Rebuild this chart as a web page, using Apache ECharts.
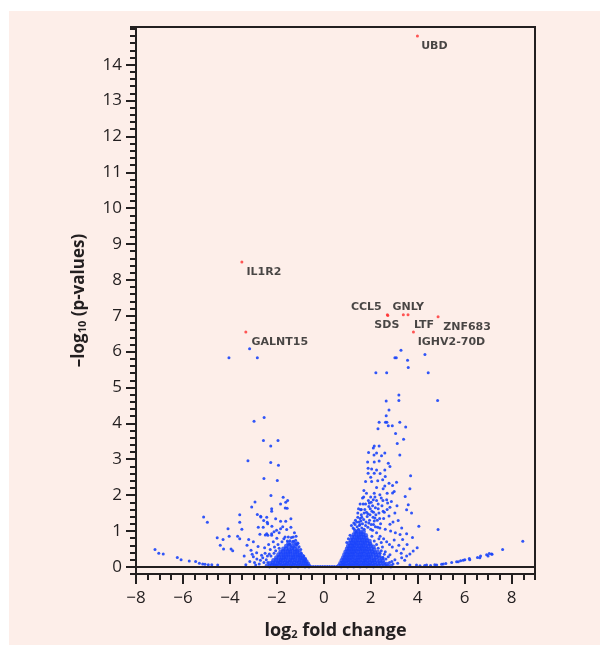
<!DOCTYPE html>
<html>
<head>
<meta charset="utf-8">
<script src="https://cdn.jsdelivr.net/npm/echarts/dist/echarts.min.js"></script>
<style>
  html, body { margin: 0; padding: 0; background: #ffffff; }
  #panel { position: absolute; left: 9px; top: 11px; width: 591px; height: 634px; background: #fdeee9; }
  #main { position: absolute; left: 0; top: 0; width: 608px; height: 645px; }
</style>
</head>
<body>
<div id="panel"></div>
<div id="main"></div>
<script>
// tick labels
var xTicks = [-8, -6, -4, -2, 0, 2, 4, 6, 8];
var yTicks = [0, 1, 2, 3, 4, 5, 6, 7, 8, 9, 10, 11, 12, 13, 14];

// labelled genes (red)
var geneNames = ['UBD', 'IL1R2', 'GALNT15', 'CCL5', 'SDS', 'GNLY', 'LTF', 'ZNF683', 'IGHV2-70D'];
var geneLogFC = [3.99, -3.49, -3.32, 2.71, 2.73, 3.39, 3.59, 4.87, 3.82];
var geneLogP = [14.8, 8.5, 6.55, 7.03, 7.01, 7.03, 7.03, 6.97, 6.55];

// all other genes (blue), [log2 fold change, -log10 p]
var leftTail = [
  [-7.19,0.48],[-7.03,0.38],[-6.84,0.36],[-6.24,0.26],[-6.08,0.2],[-5.73,0.16],[-5.46,0.15],[-5.3,0.1],
  [-5.16,0.08],[-5.06,0.07],[-4.92,0.06],[-4.77,0.06],[-4.52,0.05],[-5.12,1.39],[-4.96,1.24],[-4.54,0.81],
  [-4.29,0.76],[-4.41,0.6],[-4.27,0.5],[-4.08,1.06],[-4.03,0.85],[-3.95,0.5],[-3.88,0.45],[-3.67,0.85],
  [-3.58,0.78],[-3.58,1.45],[-3.58,1.24],[-3.49,1.05],[-3.39,0.3],[-3.32,0.06],[-3.27,0.6],[-3.2,0.76],
  [-3.1,0.46],[-3.0,0.7],[-3.0,0.28],[-2.86,0.39],[-2.8,0.57],[-2.79,1.1],[-2.72,0.91],[-2.65,0.32],
  [-2.52,0.53],[-2.49,0.89],[-2.38,0.88],[-2.22,0.92],[-2.95,0.12],[-2.85,0.22],[-2.75,0.08],[-2.7,0.18],
  [-2.6,0.25],[-2.55,0.12],[-2.5,0.38],[-2.45,0.2],[-2.9,0.05],[-3.15,0.15],[-3.05,0.35]
];
var leftSpray = [
  [-4.04,5.83],[-3.16,6.08],[-2.83,5.83],[-2.97,4.06],[-2.54,4.16],[-2.57,3.52],[-2.26,3.37],[-1.95,3.52],
  [-3.23,2.96],[-2.26,2.91],[-1.93,2.83],[-2.55,2.46],[-1.98,2.41],[-2.25,1.99],[-2.93,1.81],[-3.07,1.67],
  [-2.22,1.62],[-2.22,1.55],[-1.73,1.94],[-1.54,1.85],[-1.62,1.8],[-1.84,1.75],[-1.64,1.64],[-1.56,1.63],
  [-2.83,1.46],[-2.68,1.39],[-2.56,1.29],[-2.39,1.2],[-2.69,1.41],[-2.43,1.38],[-2.05,1.34],[-1.4,1.34],
  [-1.84,1.27],[-1.62,1.27],[-2.41,1.24],[-2.21,1.13],[-2.58,1.1],[-1.4,1.1],[-2.01,1.02],[-1.84,1.06],
  [-1.58,1.04],[-2.43,0.92],[-2.22,0.88],[-1.65,0.83],[-1.51,0.83],[-1.3,0.83],[-1.44,0.73],[-1.3,0.71],
  [-1.16,0.62],[-2.35,0.62],[-2.28,0.48],[-2.15,0.7],[-2.1,0.55],[-2.0,0.8],[-1.95,0.62],[-1.9,0.52],
  [-1.78,0.7],[-1.7,0.78],[-1.55,0.72],[-1.45,0.62],[-1.2,0.74],[-1.1,0.66],[-1.05,0.56],[-0.98,0.48],
  [-2.05,0.45],[-2.32,0.36],[-2.4,0.3],[-1.25,0.95],[-1.75,1.12],[-1.9,0.95],[-2.12,0.98],
  [-2.38,0.12],[-2.25,0.3],[-2.12,0.38],[-0.95,0.38],[-0.85,0.3],[-0.78,0.22],[-1.38,0.82],[-1.18,0.85]
];
var leftCore = [
  [-2.42,0.03],[-2.31,0.02],[-2.2,0.04],[-2.1,0.03],[-2.01,0.02],[-1.9,0.04],[-1.8,0.03],[-1.7,0.02],
  [-1.6,0.04],[-1.5,0.03],[-1.4,0.02],[-1.3,0.04],[-1.2,0.03],[-1.1,0.02],[-1.0,0.04],[-0.9,0.03],
  [-0.8,0.02],[-0.71,0.03],[-0.63,0.02],
  [-2.28,0.1],[-2.17,0.11],[-2.06,0.09],[-1.96,0.1],[-1.86,0.12],[-1.76,0.09],[-1.66,0.11],[-1.56,0.1],
  [-1.46,0.12],[-1.36,0.09],[-1.26,0.11],[-1.16,0.1],[-1.06,0.12],[-0.96,0.09],[-0.86,0.11],[-0.76,0.1],
  [-0.67,0.08],
  [-2.14,0.18],[-2.03,0.19],[-1.93,0.17],[-1.83,0.19],[-1.73,0.18],[-1.63,0.2],[-1.53,0.17],[-1.43,0.19],
  [-1.33,0.18],[-1.23,0.2],[-1.13,0.17],[-1.03,0.19],[-0.93,0.18],[-0.83,0.16],[-0.74,0.15],
  [-2.02,0.26],[-1.91,0.27],[-1.8,0.25],[-1.7,0.27],[-1.6,0.26],[-1.5,0.28],[-1.4,0.25],[-1.3,0.27],
  [-1.2,0.26],[-1.1,0.28],[-1.0,0.25],[-0.9,0.24],[-0.81,0.22],
  [-1.93,0.34],[-1.82,0.35],[-1.72,0.33],[-1.62,0.35],[-1.52,0.34],[-1.42,0.36],[-1.32,0.33],[-1.22,0.35],
  [-1.12,0.34],[-1.02,0.32],[-0.92,0.3],
  [-1.84,0.42],[-1.73,0.43],[-1.63,0.41],[-1.53,0.43],[-1.43,0.42],[-1.33,0.44],[-1.23,0.41],[-1.13,0.43],
  [-1.03,0.4],
  [-1.72,0.5],[-1.6,0.51],[-1.48,0.49],[-1.36,0.52],[-1.24,0.5],[-1.12,0.48],
  [-1.6,0.58],[-1.47,0.6],[-1.33,0.57],[-1.2,0.59],
  [-1.5,0.66],[-1.3,0.68],[-1.15,0.65]
];
var midZero = [
  [-0.55,0.01],[-0.45,0.01],[-0.35,0.01],[-0.25,0.01],[-0.15,0.01],[-0.05,0.01],
  [0.05,0.01],[0.15,0.01],[0.25,0.01],[0.35,0.01],[0.45,0.01],[0.55,0.01]
];
var rightCore = [
  [0.65,0.03],[0.74,0.02],[0.83,0.04],[0.91,0.03],[1.02,0.02],[1.1,0.04],[1.19,0.03],[1.28,0.02],
  [1.37,0.04],[1.46,0.03],[1.55,0.02],[1.66,0.04],[1.74,0.03],[1.83,0.02],[1.93,0.04],[2.02,0.03],
  [2.12,0.02],[2.21,0.04],[2.33,0.03],[2.45,0.02],[2.58,0.04],[2.71,0.03],[2.86,0.02],
  [0.71,0.1],[0.8,0.11],[0.88,0.09],[0.97,0.1],[1.06,0.12],[1.15,0.09],[1.24,0.11],[1.33,0.1],
  [1.42,0.12],[1.51,0.09],[1.6,0.11],[1.7,0.1],[1.79,0.12],[1.88,0.09],[1.97,0.11],[2.08,0.1],
  [2.17,0.12],[2.29,0.09],[2.41,0.11],[2.55,0.1],[2.68,0.08],
  [0.77,0.18],[0.86,0.19],[0.94,0.17],[1.03,0.19],[1.12,0.18],[1.21,0.2],[1.3,0.17],[1.39,0.19],
  [1.48,0.18],[1.57,0.2],[1.67,0.17],[1.76,0.19],[1.85,0.18],[1.95,0.2],[2.04,0.17],[2.14,0.19],
  [2.26,0.18],[2.38,0.16],[2.52,0.17],
  [0.83,0.26],[0.92,0.27],[1.0,0.25],[1.09,0.27],[1.18,0.26],[1.27,0.28],[1.36,0.25],[1.46,0.27],
  [1.55,0.26],[1.64,0.28],[1.73,0.25],[1.83,0.27],[1.92,0.26],[2.01,0.28],[2.12,0.25],[2.24,0.27],
  [2.37,0.26],[2.49,0.24],
  [0.88,0.34],[0.97,0.35],[1.06,0.33],[1.15,0.35],[1.24,0.34],[1.33,0.36],[1.43,0.33],[1.52,0.35],
  [1.61,0.34],[1.7,0.36],[1.8,0.33],[1.89,0.35],[1.99,0.34],[2.1,0.36],[2.22,0.33],[2.35,0.32],
  [0.93,0.42],[1.02,0.43],[1.11,0.41],[1.2,0.43],[1.29,0.42],[1.38,0.44],[1.47,0.41],[1.57,0.43],
  [1.66,0.42],[1.76,0.44],[1.85,0.41],[1.95,0.43],[2.06,0.42],[2.18,0.4],[2.3,0.41],
  [0.99,0.5],[1.08,0.51],[1.17,0.49],[1.26,0.52],[1.35,0.5],[1.45,0.51],[1.54,0.49],[1.63,0.52],
  [1.73,0.5],[1.82,0.51],[1.92,0.49],[2.03,0.5],[2.15,0.48],
  [1.04,0.58],[1.13,0.59],[1.22,0.57],[1.31,0.6],[1.41,0.58],[1.5,0.59],[1.6,0.57],[1.69,0.6],
  [1.79,0.58],[1.89,0.57],[2.0,0.59],[2.12,0.56],
  [1.1,0.66],[1.19,0.67],[1.28,0.65],[1.38,0.68],[1.47,0.66],[1.57,0.67],[1.66,0.65],[1.76,0.68],
  [1.86,0.66],[1.97,0.64],
  [1.16,0.74],[1.25,0.75],[1.35,0.73],[1.44,0.76],[1.54,0.74],[1.63,0.75],[1.73,0.73],[1.84,0.74],
  [1.95,0.72],
  [1.21,0.82],[1.31,0.83],[1.41,0.81],[1.5,0.84],[1.6,0.82],[1.7,0.83],[1.81,0.8],
  [1.28,0.9],[1.38,0.91],[1.48,0.89],[1.58,0.92],[1.68,0.9],[1.79,0.88],
  [1.35,0.98],[1.46,0.99],[1.57,0.97],[1.7,0.98]
];
var rightSpray = [
  [3.29,6.04],[3.03,5.83],[3.09,5.83],[4.31,5.92],[3.57,5.76],[3.6,5.56],[2.22,5.41],[2.68,5.41],
  [4.45,5.41],[3.2,4.79],[3.2,4.64],[2.66,4.62],[4.85,4.64],[2.78,4.37],[2.66,4.21],[2.36,4.03],
  [2.63,4.03],[2.69,4.03],[3.24,4.03],[2.75,3.93],[2.92,3.93],[2.31,3.85],[3.49,3.9],[3.06,3.72],
  [3.4,3.56],[3.13,3.44],[2.15,3.37],[2.36,3.37],[2.11,3.31],[1.91,3.19],[2.25,3.17],[2.14,3.12],
  [2.46,3.1],[2.6,3.17],[3.24,3.12],[2.15,2.92],[1.87,2.92],[2.36,2.95],[2.75,2.89],[2.82,2.8],
  [1.89,2.75],[2.04,2.73],[2.25,2.7],[2.6,2.7],[1.89,2.61],[2.15,2.61],[3.7,2.54],[2.51,2.43],
  [2.04,2.38],[2.78,2.33],[3.1,2.36],[2.93,2.27],[2.25,2.21],[2.53,2.18],[1.71,2.13],[3.67,2.18],
  [2.93,2.06],[2.39,2.01],[3.47,1.96],[1.65,1.92],[2.11,1.87],[2.68,1.87],[1.94,1.78],[2.32,1.75],
  [3.6,1.73],[2.82,1.66],[3.53,1.59],[1.57,1.59],[2.53,1.55],[3.74,1.5],[3.03,1.5],[1.97,1.45],
  [2.18,1.36],[3.17,1.29],[4.05,1.13],[4.87,1.04],[2.82,1.19],[3.32,1.08],[2.39,1.08],[1.54,1.18],
  [3.53,0.92],[3.78,0.82],[3.36,0.76],[3.98,0.53],[3.67,0.36],[3.32,0.25],[3.03,0.2],[2.82,0.34],
  [3.81,0.44],[3.53,0.3],[3.67,0.05],[3.95,0.05],[4.38,0.05],[4.81,0.05],
  [1.3,1.05],[1.42,1.12],[1.5,1.25],[1.62,1.08],[1.7,1.32],[1.78,1.15],[1.85,1.4],[1.92,1.22],
  [2.0,1.05],[2.05,1.55],[2.12,1.18],[2.2,1.65],[2.28,1.3],[2.35,1.5],[2.42,1.2],[2.48,1.7],
  [2.55,1.35],[2.62,1.05],[2.7,1.6],[2.78,1.42],[2.85,1.0],[2.95,1.25],[3.05,0.95],[3.12,1.7],
  [1.6,1.45],[1.75,1.6],[1.9,1.85],[2.0,1.95],[2.15,2.05],[2.3,2.4],[2.45,1.92],[2.6,2.25],
  [2.7,2.05],[1.82,2.05],[1.68,1.75],[1.45,1.38],[1.38,0.98],[2.25,0.95],[2.4,0.85],[2.55,0.78],
  [2.68,0.7],[2.8,0.62],[2.92,0.55],[3.0,0.75],[3.1,0.45],[3.2,0.6],[3.25,0.9],[3.4,0.5],
  [3.45,0.18],[3.55,0.62],[2.5,0.55],[2.62,0.42],[2.75,0.28],[2.9,0.15],[3.15,0.1],[3.3,0.38],
  [2.45,0.68],[2.35,0.78],[2.2,1.12],[2.1,1.38],[1.98,1.62],[2.58,1.52],[2.88,1.82],[3.0,2.1],
  [2.4,2.6],[2.0,2.5],[1.78,2.38],[2.62,2.52],[1.72,1.5],[1.55,1.35],
  [1.25,1.08],[1.33,1.18],[1.4,1.25],[1.48,1.05],[1.52,1.15],[1.58,1.28],[1.65,1.2],[1.72,1.05],
  [1.8,1.25],[1.88,1.1],[1.95,1.3],[2.02,1.18],[2.08,1.02],[2.15,1.28],[1.35,1.3],[1.45,1.5],
  [1.6,1.6],[1.82,1.52],[1.92,1.68],[2.08,1.7],[2.22,1.45],[2.3,1.1],[2.38,1.35],[1.55,1.75],
  [1.7,1.95],[2.25,1.85],[1.12,0.88],[1.05,0.78],[0.98,0.68],[2.05,0.85],[2.15,0.72],[2.25,0.62],
  [2.32,0.52],[2.45,0.45],[2.58,0.35],[2.65,0.22],[2.8,0.12],[2.95,0.08],[2.4,0.38],[2.52,0.26],
  [1.18,1.15],[1.28,1.22],[1.62,1.38],[1.88,1.48],[2.12,1.52],[2.32,1.62],[1.48,1.62],[1.78,1.75],
  [2.02,1.8],[2.18,1.95],[2.52,1.85],[2.72,1.78]
];
var rightTail = [
  [4.1,0.03],[4.3,0.04],[4.55,0.04],[4.73,0.06],[5.02,0.07],[5.09,0.08],[5.2,0.09],[5.45,0.12],
  [5.66,0.14],[5.73,0.14],[5.83,0.17],[5.94,0.18],[6.01,0.2],[6.2,0.23],[6.22,0.2],[6.55,0.26],
  [6.65,0.25],[6.68,0.3],[6.94,0.34],[7.0,0.3],[7.05,0.37],[7.15,0.36],[7.17,0.35],[7.62,0.48],
  [8.48,0.71]
];

// label placement for the named genes, px from the point
var labelOffsets = {
  'UBD': [17, 10], 'IL1R2': [22, 10], 'GALNT15': [34, 10], 'CCL5': [-21, -8], 'SDS': [-1, 10],
  'GNLY': [5, -8], 'LTF': [16, 10], 'ZNF683': [29, 10], 'IGHV2-70D': [38, 10]
};

var ink = '#231f20';
var tickFont = 'Open Sans';
var blue = '#1a44fa';

function minusFmt(v) {
  return v < 0 ? '\u2212' + Math.abs(v) : String(v);
}

var sparseData = [].concat(leftTail, leftSpray, midZero, rightSpray, rightTail);
var coreData = [].concat(leftCore, rightCore);
var redData = geneNames.map(function (n, i) {
  return {
    name: n,
    value: [geneLogFC[i], geneLogP[i]],
    label: { offset: labelOffsets[n] }
  };
});

var chart = echarts.init(document.getElementById('main'), null, { renderer: 'canvas' });

var nameRich = function (big) {
  return {
    b: { fontSize: big, fontWeight: 'bold', color: ink, fontFamily: tickFont, lineHeight: 22, verticalAlign: 'bottom' },
    s: { fontSize: 11, fontWeight: 'bold', color: ink, fontFamily: tickFont, lineHeight: 17, verticalAlign: 'bottom' }
  };
};

var option = {
  animation: false,
  backgroundColor: 'transparent',
  grid: {
    left: 136, top: 27, width: 399, height: 549.5,
    show: true, borderColor: ink, borderWidth: 2, backgroundColor: 'transparent'
  },
  xAxis: [
    {
      type: 'value', min: -8, max: 9, interval: 2, position: 'bottom',
      axisLine: { show: true, onZero: false, lineStyle: { color: ink, width: 2 } },
      axisTick: { show: true, inside: false, length: 10, lineStyle: { color: ink, width: 2 } },
      axisLabel: {
        margin: 16, fontSize: 17, color: ink, fontFamily: tickFont,
        showMaxLabel: false, formatter: minusFmt
      },
      splitLine: { show: false },
      name: '{b|log}{s|2}{b| fold change}',
      nameLocation: 'middle', nameGap: 44,
      nameTextStyle: { rich: nameRich(18) }
    },
    {
      type: 'value', min: -8, max: 9, interval: 0.5, position: 'bottom',
      axisLine: { show: false, onZero: false },
      axisTick: { show: true, length: 6, lineStyle: { color: ink, width: 2 } },
      axisLabel: { show: false },
      splitLine: { show: false }
    }
  ],
  yAxis: [
    {
      type: 'value', min: -0.2, max: 15.05, interval: 0.2, position: 'left',
      axisLine: { show: true, onZero: false, lineStyle: { color: ink, width: 2 } },
      axisTick: { show: true, length: 6, lineStyle: { color: ink, width: 2 } },
      axisLabel: { show: false },
      splitLine: { show: false },
      name: '{b|\u2013log}{s|10}{b| (p-values)}',
      nameLocation: 'middle', nameGap: 48, nameRotate: 90,
      nameTextStyle: { rich: nameRich(17) }
    },
    {
      type: 'value', min: -0.2, max: 15.05, position: 'left',
      axisLine: { show: false, onZero: false },
      axisTick: { show: true, length: 10, customValues: yTicks, lineStyle: { color: ink, width: 2 } },
      axisLabel: { customValues: yTicks, margin: 14, fontSize: 17, color: ink, fontFamily: tickFont },
      splitLine: { show: false }
    }
  ],
  series: [
    {
      name: 'genes', type: 'scatter', xAxisIndex: 0, yAxisIndex: 0,
      data: sparseData, symbolSize: 3, silent: true,
      itemStyle: { color: blue, opacity: 0.9 },
      markLine: {
        silent: true, symbol: ['none', 'none'], animation: false,
        label: { show: false },
        lineStyle: { color: ink, width: 2, type: 'solid' },
        data: [{ yAxis: 0 }]
      }
    },
    {
      name: 'genesDense', type: 'scatter', xAxisIndex: 0, yAxisIndex: 0,
      data: coreData, symbolSize: 4.6, silent: true,
      itemStyle: { color: blue }
    },
    {
      name: 'labelled', type: 'scatter', xAxisIndex: 0, yAxisIndex: 0,
      data: redData, symbolSize: 3, silent: true,
      itemStyle: { color: '#ff2d2d' },
      label: {
        show: true, position: 'inside', formatter: '{b}',
        align: 'center', verticalAlign: 'middle',
        fontFamily: 'DejaVu Sans', fontWeight: 'bold', fontSize: 11, color: '#1a1a1a'
      }
    }
  ]
};

chart.setOption(option);
</script>
</body>
</html>
